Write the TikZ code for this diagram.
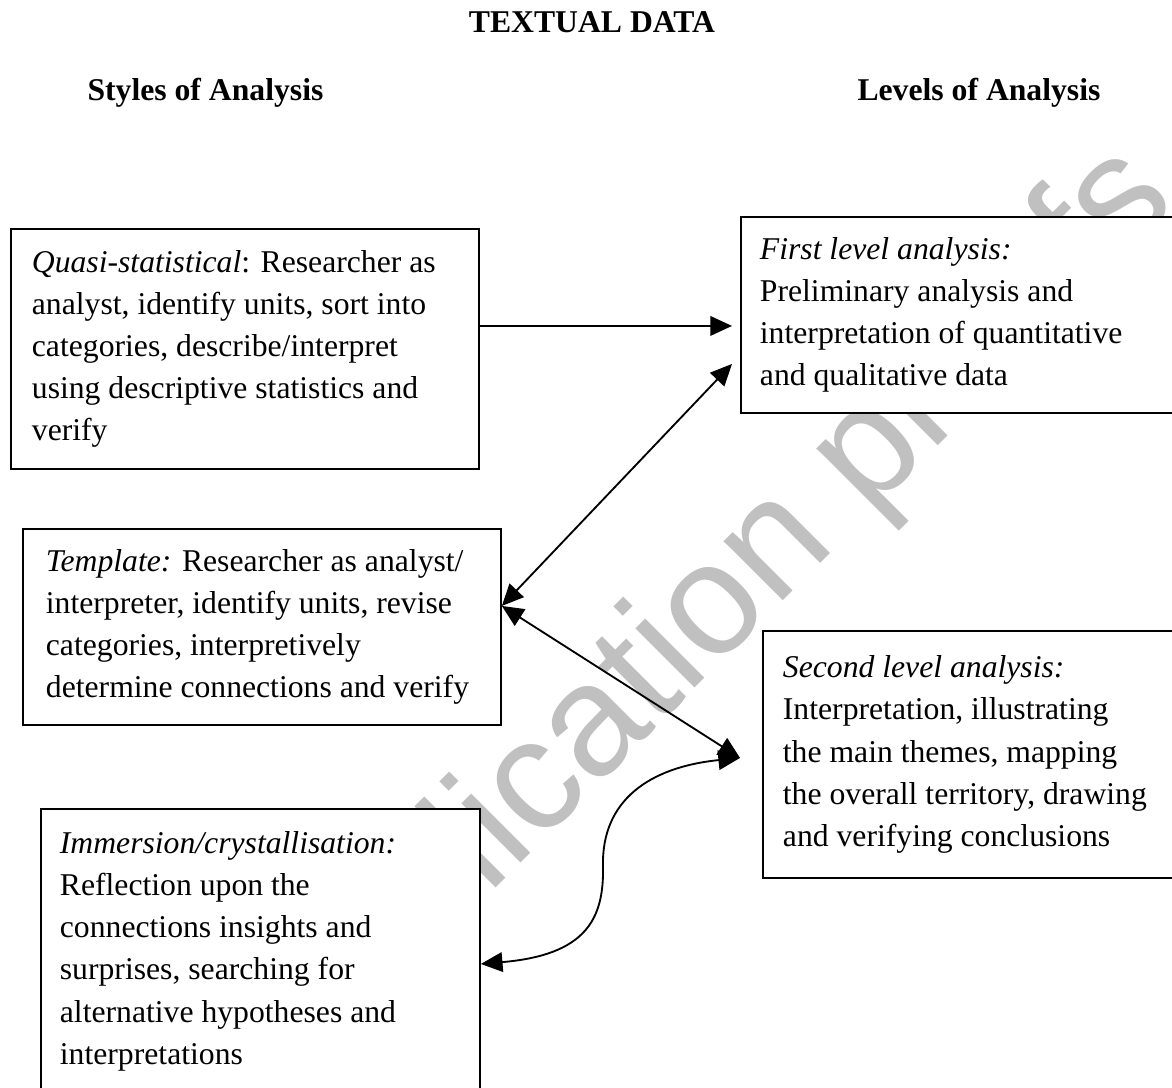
\documentclass[tikz,border=0pt]{standalone}
\usepackage{fontspec}
\setmainfont{Liberation Serif}
\newfontfamily\markfont{Liberation Sans}
\usetikzlibrary{arrows.meta}
\newlength\pxu
\setlength\pxu{0.3788pt}
\definecolor{markgray}{RGB}{192,192,192}
\tikzset{
  analysisbox/.style={draw, fill=white, line width=0.7pt, align=flush left,
    anchor=north west, inner ysep=0pt, font=\fontsize{12}{16}\selectfont},
  headtext/.style={font=\bfseries\fontsize{12}{14}\selectfont, inner sep=0pt},
  onearrow/.style={line width=0.7pt, -{Triangle[length=8.2pt, width=7.4pt]}},
  twoarrow/.style={line width=0.7pt,
    {Triangle[length=8.2pt, width=7.4pt]}-{Triangle[length=8.2pt, width=7.4pt]}},
}
\begin{document}
\begin{tikzpicture}[x=\pxu, y=-\pxu]
\path[use as bounding box, fill=white] (0,0) rectangle (1172,1087);
% watermark, covered by the boxes
\node[text=markgray, font=\markfont\fontsize{60}{60}\selectfont, rotate=45,
  inner sep=0pt] (mark) at (712,614) {publication proofs};

% headings
\node[headtext, anchor=base] (title) at (592,32) {TEXTUAL DATA};
\node[headtext, anchor=base west] (styles) at (87,100) {Styles of Analysis};
\node[headtext, anchor=base west] (levels) at (857,100) {Levels of Analysis};

% styles of analysis
\node[analysisbox, inner xsep=21\pxu, text width=426\pxu, minimum height=240\pxu]
  (quasi) at (10,228) {\textit{Quasi-statistical}: Researcher as\\
  analyst, identify units, sort into\\ categories, describe/interpret\\
  using descriptive statistics and\\ verify};
\node[analysisbox, inner xsep=23\pxu, text width=432\pxu, minimum height=196\pxu]
  (template) at (22,528) {\textit{Template:} Researcher as analyst/\\
  interpreter, identify units, revise\\ categories, interpretively\\
  determine connections and verify};
\node[analysisbox, inner xsep=19\pxu, text width=401\pxu, minimum height=320\pxu]
  (immersion) at (40,808) {\textit{Immersion/crystallisation:}\\
  Reflection upon the\\ connections insights and\\ surprises, searching for\\
  alternative hypotheses and\\ interpretations\\ \mbox{}};

% levels of analysis
\node[analysisbox, inner xsep=19\pxu, text width=422\pxu, minimum height=196\pxu]
  (first) at (740,216) {\textit{First level analysis:}\\ Preliminary analysis and\\
  interpretation of quantitative\\ and qualitative data};
\node[analysisbox, inner xsep=20\pxu, text width=398\pxu, minimum height=247\pxu]
  (second) at (762,630) {\textit{Second level analysis:}\\ Interpretation, illustrating\\
  the main themes, mapping\\ the overall territory, drawing\\
  and verifying conclusions};

% arrow ends
\path (quasi.east) ++(0,-23) coordinate (quasiport);
\path (first.west) ++(-8,11) coordinate (firstporta);
\path (first.west) ++(-8,49) coordinate (firstportb);
\path (template.east) ++(0,-21) coordinate (templateport);
\path (second.west) ++(-22,3.5) coordinate (secondport);
\path (immersion.east) ++(0,-5) coordinate (immersionport);

\draw[onearrow] (quasiport) -- (firstporta);
\draw[twoarrow] (templateport) -- (firstportb);
\draw[twoarrow] (templateport) -- (secondport);
\draw[twoarrow] (immersionport) .. controls (585,955) and (604,920) .. (603,867)
  .. controls (601,800) and (650,767) .. (secondport);
\end{tikzpicture}
\end{document}
